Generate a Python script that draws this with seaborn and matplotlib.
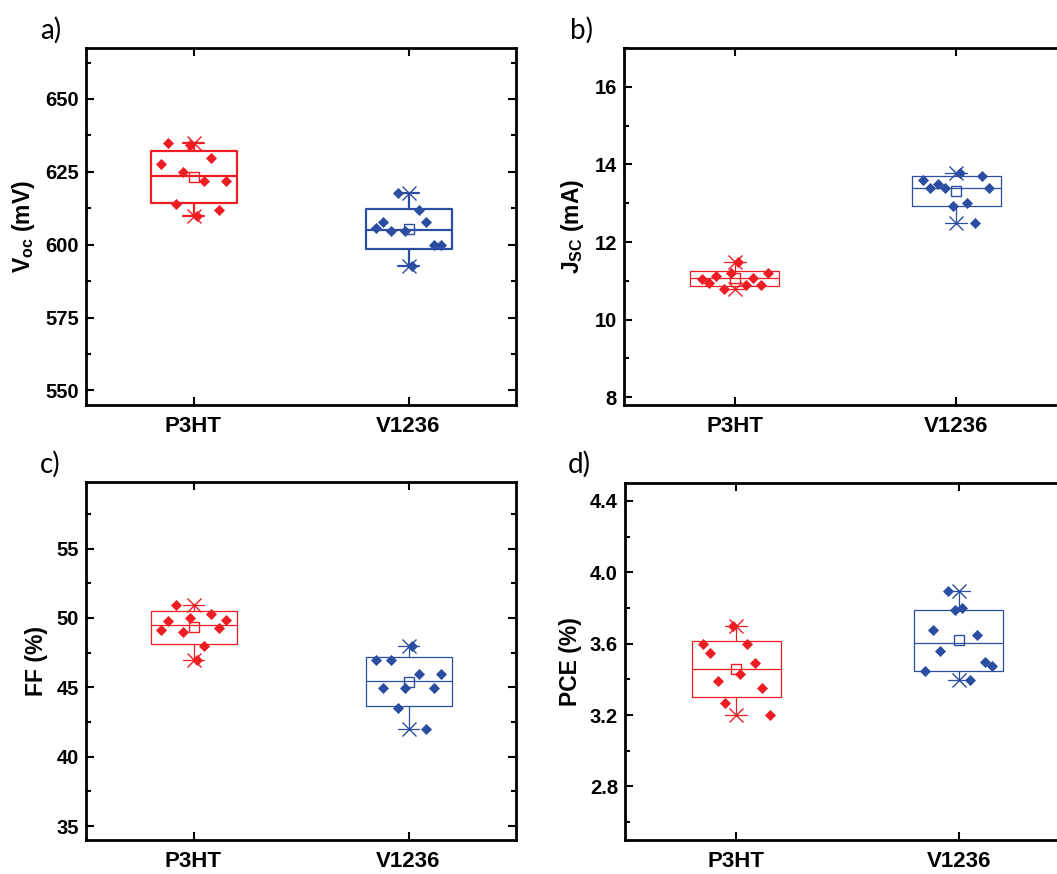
import numpy as np
import pandas as pd
import seaborn as sns
import matplotlib.pyplot as plt
from matplotlib.ticker import MultipleLocator, FormatStrFormatter

groups = ['P3HT', 'V1236']
colors = ['#ee1d23', '#2b4ea2']

# device values, listed in the order they sit left to right inside each box
voc_p3ht = [627.8, 634.9, 614.0, 625.1, 634.1, 609.9, 621.9, 629.8, 611.9, 621.9]
voc_v1236 = [605.6, 607.9, 604.8, 617.9, 604.8, 592.8, 611.9, 607.9, 599.8, 599.8]
jsc_p3ht = [11.04, 10.94, 11.13, 10.78, 11.19, 11.49, 10.88, 11.08, 10.88, 11.19]
jsc_v1236 = [13.60, 13.38, 13.49, 13.38, 12.94, 13.79, 13.00, 12.49, 13.69, 13.38]
ff_p3ht = [49.13, 49.76, 50.96, 48.97, 50.00, 46.95, 47.96, 50.26, 49.30, 49.88]
ff_v1236 = [46.95, 44.95, 46.95, 43.49, 44.95, 47.98, 45.96, 42.00, 44.95, 45.96]
pce_p3ht = [3.60, 3.55, 3.39, 3.27, 3.70, 3.43, 3.60, 3.49, 3.35, 3.20]
pce_v1236 = [3.447, 3.678, 3.557, 3.897, 3.79, 3.80, 3.397, 3.647, 3.496, 3.477]

ylabels = ['V$_{\\mathrm{oc}}$ (mV)', 'J$_{\\mathrm{SC}}$ (mA)', 'FF (%)', 'PCE (%)']
letters = ['a)', 'b)', 'c)', 'd)']

sns.set_style('ticks')
plt.rcParams['font.family'] = ['Liberation Sans', 'DejaVu Sans']
plt.rcParams['font.weight'] = 'bold'
plt.rcParams['mathtext.fontset'] = 'custom'
plt.rcParams['mathtext.rm'] = 'Liberation Sans:bold'
plt.rcParams['mathtext.it'] = 'Liberation Sans:italic:bold'
plt.rcParams['mathtext.bf'] = 'Liberation Sans:bold'
for key in ['text.color', 'axes.labelcolor', 'xtick.color', 'ytick.color', 'axes.edgecolor']:
    plt.rcParams[key] = 'black'

fig = plt.figure(figsize=(10.57, 8.74), dpi=100)
W, H = 1057, 874
# axes boxes in pixels: left, top, width, height (right column runs off the page)
boxes = [(86, 48, 430, 357), (624, 48, 443, 357), (86, 482, 430, 358), (625, 483, 445, 357)]
axes = [fig.add_axes([l / W, 1 - (t + h) / H, w / W, h / H]) for l, t, w, h in boxes]

panels = [
    (voc_p3ht, voc_v1236, (545, 667.5), 25, 12.5, '%d', 1.6),
    (jsc_p3ht, jsc_v1236, (7.8, 17), 2, 1, '%d', 0.9),
    (ff_p3ht, ff_v1236, (34, 59.8), 5, 2.5, '%d', 0.9),
    (pce_p3ht, pce_v1236, (2.5, 4.5), 0.4, 0.2, '%.1f', 0.9),
]

spread = 0.15
for ax, (p3ht, v1236, ylim, major, minor, fmt, lw), ylab in zip(axes, panels, ylabels):
    df = pd.DataFrame({
        'pos': [0] * len(p3ht) + [1] * len(v1236),
        'value': p3ht + v1236,
    })
    for pos, c in enumerate(colors):
        vals = df.loc[df['pos'] == pos, 'value']
        # Origin style box: mean +/- 1 SD, median line, whiskers to min/max
        m, sd = vals.mean(), vals.std()
        stats = dict(med=vals.median(), q1=m - sd, q3=m + sd, mean=m,
                     whislo=vals.min(), whishi=vals.max(), fliers=[])
        line = dict(color=c, linewidth=lw)
        ax.bxp([stats], positions=[pos], widths=0.4, capwidths=0.1,
               showmeans=True, showfliers=False, manage_ticks=False,
               boxprops=line, whiskerprops=line, capprops=line, medianprops=line,
               meanprops=dict(marker='s', markerfacecolor='none', markeredgecolor=c,
                              markersize=7, markeredgewidth=1))
        offsets = np.linspace(-spread, spread, len(vals))
        sns.scatterplot(x=pos + offsets, y=vals.values, color=c, marker='D',
                        s=32, linewidth=0, zorder=3, ax=ax)
        ax.plot([pos, pos], [vals.min(), vals.max()], 'x', color=c,
                markersize=10, markeredgewidth=1, zorder=4)

    ax.set_xlim(-0.5, 1.5)
    ax.set_ylim(*ylim)
    ax.set_xticks([0, 1])
    ax.set_xticklabels(groups, fontsize=16, fontweight='bold')
    ax.yaxis.set_major_locator(MultipleLocator(major))
    ax.yaxis.set_minor_locator(MultipleLocator(minor))
    ax.yaxis.set_major_formatter(FormatStrFormatter(fmt))
    ax.set_xlabel('')
    ax.set_ylabel(ylab, fontsize=16.5, fontweight='bold', labelpad=6)
    ax.tick_params(axis='both', which='major', direction='in', top=True, right=True,
                   length=6, width=1.5)
    ax.tick_params(axis='y', which='major', labelsize=14.5, pad=5)
    ax.tick_params(axis='x', which='major', pad=8)
    ax.tick_params(axis='y', which='minor', direction='in', right=True, length=3.5, width=1.5)
    ax.tick_params(axis='x', which='minor', bottom=False, top=False)
    for lab in ax.get_yticklabels():
        lab.set_fontweight('bold')
    for sp in ax.spines.values():
        sp.set_linewidth(2)
        sp.set_visible(True)

letter_pos = [(40, 30), (570, 30), (40, 464), (568, 464)]
for (x, y), let in zip(letter_pos, letters):
    fig.text(x / W, 1 - y / H, let, fontsize=20, fontweight='normal',
             family=['Lato', 'DejaVu Sans'], va='center', ha='left')

fig.savefig('out.png', dpi=100)
